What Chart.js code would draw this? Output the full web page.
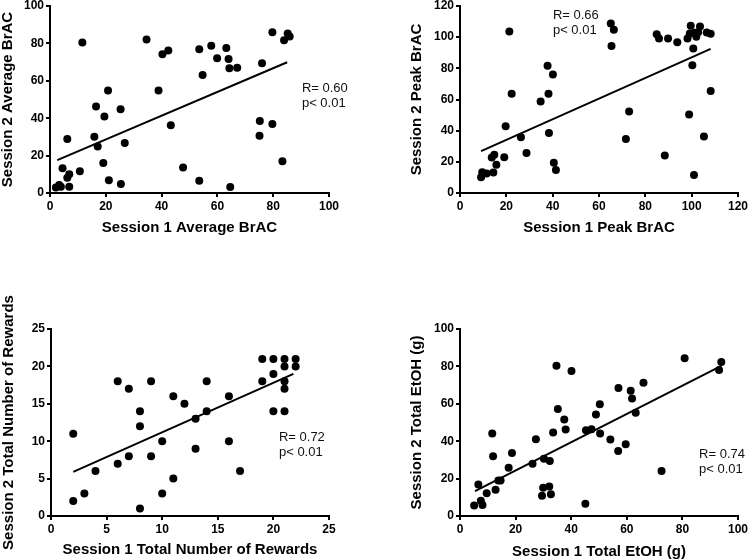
<!DOCTYPE html>
<html>
<head>
<meta charset="utf-8">
<script src="https://cdn.jsdelivr.net/npm/chart.js@4.4.1/dist/chart.umd.min.js"></script>
<style>
    html, body { margin: 0; padding: 0; background: #fff; }
    #wrap { position: relative; width: 750px; height: 560px; overflow: hidden; }
    #wrap canvas { position: absolute; }
</style>
</head>
<body>
<div id="wrap">
    <canvas id="chart-avg"></canvas>
    <canvas id="chart-peak"></canvas>
    <canvas id="chart-rewards"></canvas>
    <canvas id="chart-etoh"></canvas>
</div>
<script>
// Average BrAC
const avgS1 = [2.1, 3.3, 3.9, 4.5, 6.2, 6.2, 6.9, 6.9, 10.7, 11.6, 15.9, 16.5, 17.1, 19.1, 19.5, 20.8, 21.1, 25.3, 25.4, 26.8, 34.6, 38.9, 40.3, 42.4, 43.3, 47.7, 53.5, 53.5, 54.7, 57.8, 59.9, 63.2, 64.0, 64.3, 64.6, 67.1, 75.1, 75.2, 76.0, 79.7, 79.7, 83.3, 83.9, 85.2, 85.9];
const avgS2 = [2.9, 4.3, 3.4, 13.3, 28.9, 8.2, 10.0, 3.4, 11.6, 80.5, 30.1, 46.2, 24.9, 16.0, 40.9, 54.8, 6.8, 44.8, 4.8, 26.7, 82.1, 54.8, 74.2, 76.2, 36.2, 13.6, 76.9, 6.6, 63.1, 78.7, 72.0, 77.6, 71.7, 66.7, 3.2, 67.0, 30.6, 38.5, 69.4, 86.0, 36.9, 17.0, 81.7, 85.3, 83.7];
const avgFitX = [2.6, 85.0];
const avgFitY = [17.6, 69.9];
const avgTicks = [0, 20, 40, 60, 80, 100];

// Peak BrAC
const peakS1 = [9.1, 9.6, 11.5, 13.7, 14.4, 14.8, 15.7, 19.1, 19.7, 21.3, 22.3, 26.3, 28.7, 34.8, 37.8, 38.2, 38.4, 40.1, 40.5, 41.4, 65.1, 65.4, 66.4, 71.6, 73.0, 84.9, 85.9, 88.4, 89.8, 93.8, 98.2, 98.9, 99.2, 99.6, 100.3, 100.7, 101.0, 101.3, 102.0, 102.8, 103.6, 105.3, 106.5, 108.2, 108.2];
const peakS2 = [10.1, 13.3, 12.5, 22.8, 13.1, 24.5, 18.1, 23.0, 42.8, 103.7, 63.7, 35.7, 25.6, 58.7, 81.7, 63.7, 38.5, 76.1, 19.4, 14.8, 108.8, 94.4, 104.7, 34.6, 52.3, 101.9, 99.1, 24.1, 99.1, 96.8, 99.1, 50.3, 102.4, 107.3, 81.9, 92.7, 11.6, 102.8, 100.2, 103.2, 106.9, 36.3, 103.0, 102.2, 65.4];
const peakFitX = [9.1, 108.2];
const peakFitY = [26.9, 92.5];
const peakTicks = [0, 20, 40, 60, 80, 100, 120];

// Total number of rewards
const rewS1 = [2, 2, 3, 4, 6, 6, 7, 7, 8, 8, 8, 9, 9, 10, 10, 11, 11, 12, 13, 13, 14, 14, 16, 16, 17, 19, 19, 20, 20, 20, 21, 21, 21, 21, 21, 22, 22];
const rewS2 = [2, 11, 3, 6, 18, 7, 17, 8, 14, 12, 1, 18, 8, 10, 3, 16, 5, 15, 13, 9, 18, 14, 16, 10, 6, 21, 18, 21, 19, 14, 21, 20, 18, 17, 14, 21, 20];
const rewFitX = [2.0, 21.8];
const rewFitY = [5.9, 19.0];
const rewTicks = [0, 5, 10, 15, 20, 25];

// Total EtOH (g)
const etohS1 = [5.1, 6.6, 7.5, 8.1, 9.6, 11.6, 11.9, 12.8, 13.8, 14.6, 17.5, 18.7, 26.1, 27.3, 29.5, 29.9, 30.2, 32.1, 32.3, 32.7, 33.5, 34.7, 35.2, 37.5, 38.0, 40.1, 45.1, 45.3, 47.3, 48.9, 50.3, 50.4, 54.1, 56.9, 57.0, 59.6, 61.4, 61.9, 63.2, 66.0, 72.5, 80.8, 93.2, 94.0];
const etohS2 = [5.6, 16.8, 8.2, 5.9, 12.2, 44.1, 31.9, 14.0, 19.0, 19.0, 25.8, 33.7, 28.0, 41.0, 10.8, 15.1, 30.6, 15.8, 29.4, 11.6, 44.6, 80.3, 57.2, 51.6, 46.2, 77.6, 6.5, 45.9, 46.4, 54.3, 59.7, 44.1, 40.9, 34.8, 68.5, 38.4, 67.0, 62.9, 55.2, 71.3, 24.0, 84.4, 78.1, 82.4];
const etohFitX = [5.4, 94.0];
const etohFitY = [13.3, 80.3];
const etohTicks = [0, 20, 40, 60, 80, 100];

const FONT = "'Liberation Sans', Arial, Helvetica, sans-serif";

// draws axis titles and the R / p note
const panelText = {
    id: "panelText",
    afterDraw(chart, args, opts) {
        const ctx = chart.ctx;
        const area = chart.chartArea;
        ctx.save();
        ctx.fillStyle = "#000";
        ctx.font = "bold 15px " + FONT;
        ctx.textAlign = "center";
        ctx.textBaseline = "middle";
        ctx.fillText(opts.xTitle, (area.left + area.right) / 2, opts.xTitleY);
        ctx.translate(opts.yTitleX, (area.top + area.bottom) / 2);
        ctx.rotate(-Math.PI / 2);
        ctx.fillText(opts.yTitle, 0, 0);
        ctx.restore();

        ctx.save();
        ctx.fillStyle = "#111";
        ctx.font = "13px " + FONT;
        ctx.textAlign = "left";
        ctx.textBaseline = "middle";
        const nx = chart.scales.x.getPixelForValue(opts.noteAt[0]);
        const ny = chart.scales.y.getPixelForValue(opts.noteAt[1]);
        opts.note.forEach((t, i) => ctx.fillText(t, nx, ny + i * 15));
        ctx.restore();
    },
};

const axisOpts = (ticks, fitSize, horizontal) => ({
    type: "linear",
    min: ticks[0],
    max: ticks[ticks.length - 1],
    ticks: {
        stepSize: ticks[1] - ticks[0],
        color: "#000",
        padding: 2,
        font: { family: FONT, size: 12, weight: "bold" },
    },
    grid: {
        drawOnChartArea: false,
        drawTicks: true,
        tickLength: 4,
        color: "#000",
        lineWidth: 2,
    },
    border: { display: true, color: "#000", width: 2 },
    afterFit: (s) => {
        if (horizontal) s.height = fitSize;
        else s.width = fitSize;
    },
});

const initPanel = (id, box, area, xs, ys, fitX, fitY, xTicks, yTicks, text) => {
    const canvas = document.getElementById(id);
    canvas.width = box.width;
    canvas.height = box.height;
    canvas.style.left = box.left + "px";
    canvas.style.top = box.top + "px";

    const yw = 30;
    const xh = 30;
    const padding = {
        left: area.l - box.left - yw,
        top: area.t - box.top,
        right: box.left + box.width - area.r,
        bottom: box.top + box.height - area.b - xh,
    };

    return new Chart(canvas, {
        type: "scatter",
        data: {
            datasets: [
                {
                    data: xs.map((x, i) => ({ x: x, y: ys[i] })),
                    pointRadius: 4,
                    pointHoverRadius: 4,
                    backgroundColor: "#000",
                    borderWidth: 0,
                    clip: false,
                },
                {
                    type: "line",
                    data: fitX.map((x, i) => ({ x: x, y: fitY[i] })),
                    borderColor: "#000",
                    borderWidth: 2,
                    pointRadius: 0,
                    fill: false,
                    clip: false,
                },
            ],
        },
        options: {
            responsive: false,
            animation: false,
            events: [],
            layout: { padding: padding },
            plugins: {
                legend: { display: false },
                tooltip: { enabled: false },
                panelText: {
                    xTitle: text.xTitle,
                    yTitle: text.yTitle,
                    xTitleY: text.xTitleY - box.top,
                    yTitleX: text.yTitleX - box.left,
                    note: text.note,
                    noteAt: text.noteAt,
                },
            },
            scales: {
                x: axisOpts(xTicks, xh, true),
                y: axisOpts(yTicks, yw, false),
            },
        },
        plugins: [panelText],
    });
};

initPanel("chart-avg",
    { left: -10, top: -12, width: 380, height: 262 },
    { l: 50, t: 6, r: 329, b: 193 },
    avgS1, avgS2, avgFitX, avgFitY, avgTicks, avgTicks,
    {
        xTitle: "Session 1 Average BrAC", xTitleY: 228,
        yTitle: "Session 2 Average BrAC", yTitleX: 8,
        note: ["R= 0.60", "p< 0.01"], noteAt: [90.3, 55.9],
    });

initPanel("chart-peak",
    { left: 365, top: -12, width: 395, height: 262 },
    { l: 460, t: 6, r: 738, b: 193 },
    peakS1, peakS2, peakFitX, peakFitY, peakTicks, peakTicks,
    {
        xTitle: "Session 1 Peak BrAC", xTitleY: 228,
        yTitle: "Session 2 Peak BrAC", yTitleX: 417,
        note: ["R= 0.66", "p< 0.01"], noteAt: [40.1, 114.2],
    });

initPanel("chart-rewards",
    { left: -10, top: 280, width: 380, height: 290 },
    { l: 51, t: 329, r: 329, b: 516 },
    rewS1, rewS2, rewFitX, rewFitY, rewTicks, rewTicks,
    {
        xTitle: "Session 1 Total Number of Rewards", xTitleY: 550,
        yTitle: "Session 2 Total Number of Rewards", yTitleX: 9,
        note: ["R= 0.72", "p< 0.01"], noteAt: [20.5, 10.5],
    });

initPanel("chart-etoh",
    { left: 365, top: 280, width: 395, height: 290 },
    { l: 460, t: 329, r: 738, b: 516 },
    etohS1, etohS2, etohFitX, etohFitY, etohTicks, etohTicks,
    {
        xTitle: "Session 1 Total EtOH (g)", xTitleY: 552,
        yTitle: "Session 2 Total EtOH (g)", yTitleX: 417,
        note: ["R= 0.74", "p< 0.01"], noteAt: [86.0, 32.8],
    });
</script>
</body>
</html>
